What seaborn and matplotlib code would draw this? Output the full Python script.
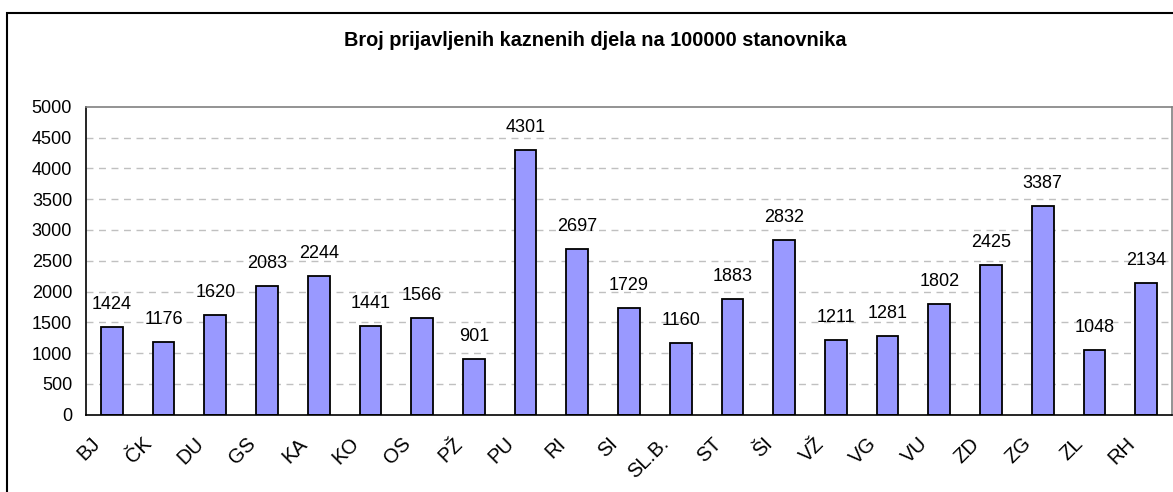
import matplotlib
matplotlib.use("Agg")
import matplotlib.pyplot as plt
import matplotlib.transforms as mtransforms
from matplotlib.patches import Rectangle
import seaborn as sns
import pandas as pd

# data
regions = ['BJ', 'ČK', 'DU', 'GS', 'KA', 'KO', 'OS', 'PŽ', 'PU', 'RI', 'SI',
           'SL.B.', 'ST', 'ŠI', 'VŽ', 'VG', 'VU', 'ZD', 'ZG', 'ZL', 'RH']
crimes = [1424, 1176, 1620, 2083, 2244, 1441, 1566, 901, 4301, 2697, 1729,
          1160, 1883, 2832, 1211, 1281, 1802, 2425, 3387, 1048, 2134]
title = 'Broj prijavljenih kaznenih djela na 100000 stanovnika'
yticks = list(range(0, 5001, 500))

df = pd.DataFrame({'regija': regions, 'kd': crimes})

sns.set_style('white')
plt.rcParams['font.family'] = ['Liberation Sans', 'DejaVu Sans']
plt.rcParams['text.color'] = 'black'
plt.rcParams['xtick.labelcolor'] = 'black'
plt.rcParams['ytick.labelcolor'] = 'black'

fig = plt.figure(figsize=(11.73, 4.92), dpi=100)
ax = fig.add_axes([86 / 1173, 1 - 414.7 / 492, 1086 / 1173, 308 / 492])

sns.barplot(data=df, x='regija', y='kd', color='#9999FF', edgecolor='black',
            linewidth=1.3, width=0.42, saturation=1, ax=ax)

ax.set_xlim(-0.5, len(regions) - 0.5)
ax.set_ylim(0, 5000)
ax.set_yticks(yticks)
ax.set_yticklabels([str(t) for t in yticks], fontsize=13)
ax.set_xlabel('')
ax.set_ylabel('')

# dashed grid
for t in yticks[1:-1]:
    ax.axhline(t, color='#c0c0c0', lw=1, ls=(0, (5, 4)), zorder=0)

# category labels at centers, tick marks at boundaries
ax.set_xticks(range(len(regions)))
ax.set_xticks([i - 0.5 for i in range(len(regions) + 1)], minor=True)
ax.tick_params(axis='x', which='major', length=0, pad=14)
ax.tick_params(axis='x', which='minor', length=5, width=1, color='#555555',
               direction='out')
ax.tick_params(axis='y', length=5, width=1, color='black', direction='out',
               pad=5)
ax.set_xticklabels(regions, fontsize=14.5, rotation=45, ha='right', va='top',
                   rotation_mode='anchor')
off = mtransforms.ScaledTranslation(-21 / 100, 0, fig.dpi_scale_trans)
for lab in ax.get_xticklabels():
    lab.set_transform(lab.get_transform() + off)

for s in ['left', 'bottom']:
    ax.spines[s].set_color('black')
    ax.spines[s].set_linewidth(1.2)
for s in ['top', 'right']:
    ax.spines[s].set_visible(True)
    ax.spines[s].set_color('#808080')
    ax.spines[s].set_linewidth(1.2)

# value labels above bars
for i, v in enumerate(crimes):
    ax.annotate(str(v), (i, v), xytext=(0, 13), textcoords='offset points',
                ha='center', va='baseline', fontsize=13)

fig.text(595 / 1173, 1 - 40 / 492, title, ha='center', va='center',
         fontsize=14.3, fontweight='bold')

# outer chart frame (cut off at right and bottom)
fig.patches.append(Rectangle((7 / 1173, -0.1), 1.2, 1 - 13 / 492 + 0.1,
                             transform=fig.transFigure, fill=False,
                             edgecolor='black', linewidth=1.5))

fig.savefig('out.png', dpi=100)
